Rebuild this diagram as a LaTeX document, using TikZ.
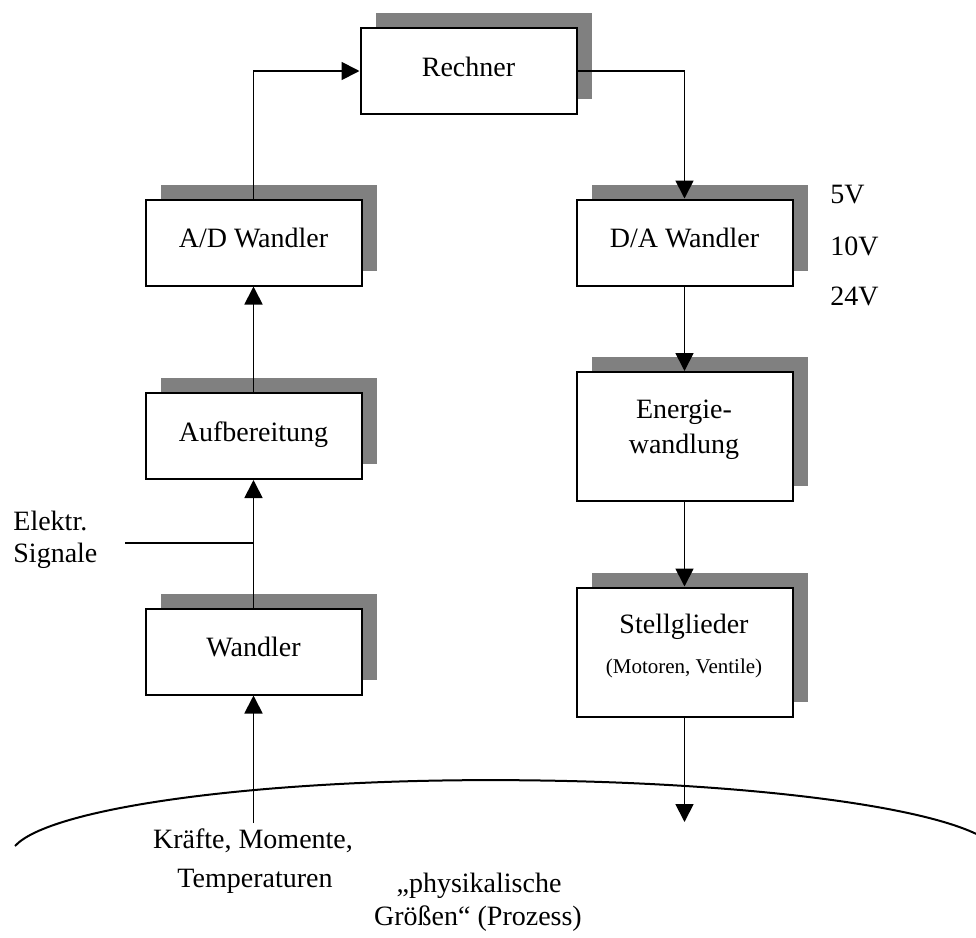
\documentclass[tikz,border=0pt]{standalone}
\usepackage{fontspec}
\setmainfont{Liberation Serif}
\usetikzlibrary{arrows.meta,shadows}
\begin{document}
\begin{tikzpicture}[x=0.5pt,y=-0.5pt,
  box/.style={draw=black, line width=1pt, fill=white,
    minimum width=108pt, minimum height=43pt, inner sep=0pt,
    font=\fontsize{14}{17}\selectfont, text height=10pt, text depth=5pt,
    drop shadow={shadow xshift=7.5pt, shadow yshift=7.5pt, fill=black!50, opacity=1}},
  tallbox/.style={box, minimum height=64.5pt},
  lbl/.style={font=\fontsize{14}{17}\selectfont, inner sep=0pt},
  small/.style={font=\fontsize{10.5}{12}\selectfont, inner sep=0pt},
  wire/.style={line width=0.9pt},
  flow/.style={wire, -{Triangle[length=9pt,width=9pt]}}]
\useasboundingbox (0,0) rectangle (976,938);

% process boundary
\draw[line width=1pt] (15,846)
  arc[start angle=171.7, end angle=90, x radius=240pt, y radius=38.5pt]
  arc[start angle=90, end angle=17.6, x radius=255pt, y radius=38.5pt];

% blocks
\node[box] (rechner) at (468.5,71) {Rechner};
\node[box] (ad) at (253.5,242.5) {A/D Wandler};
\node[box] (da) at (684.5,242.5) {D/A Wandler};
\node[box] (aufb) at (253.5,436) {Aufbereitung};
\node[box] (wandler) at (253.5,651.5) {Wandler};
\node[tallbox] (energie) at (684.5,436.5) {};
\node[tallbox] (stell) at (684.5,652) {};

% two-line block texts
\node[lbl, anchor=base] (energie1) at (684,418) {Energie-};
\node[lbl, anchor=base] (energie2) at (684,453) {wandlung};
\node[lbl, anchor=base] (stell1) at (684,633) {Stellglieder};
\node[small, anchor=base] (stell2) at (684,673) {(Motoren, Ventile)};

% voltage levels
\node[lbl, anchor=base west] (v5) at (830,203) {5V};
\node[lbl, anchor=base west] (v10) at (830,255) {10V};
\node[lbl, anchor=base west] (v24) at (830,305) {24V};

% signal input
\node[lbl, anchor=base west] (el1) at (13,530) {Elektr.};
\node[lbl, anchor=base west] (el2) at (13,562) {Signale};
\coordinate (sig) at (125,543);

% process texts
\node[lbl, anchor=base] (k1) at (253,848) {Kräfte, Momente,};
\node[lbl, anchor=base] (k2) at (255,887) {Temperaturen};
\node[lbl, anchor=base] (p1) at (479,892) {„physikalische};
\node[lbl, anchor=base] (p2) at (478,925) {Größen“ (Prozess)};

\coordinate (messpunkt) at (253.5,823);
\coordinate (stellpunkt) at (684.5,822);

% signal flow
\draw[flow] (messpunkt) -- (wandler.south);
\draw[flow] (wandler.north) -- (aufb.south);
\draw[wire] (sig) -- (sig -| wandler.north);
\draw[flow] (aufb.north) -- (ad.south);
\draw[flow] (ad.north) |- (rechner.west);
\draw[flow] (rechner.east) -| (da.north);
\draw[flow] (da.south) -- (energie.north);
\draw[flow] (energie.south) -- (stell.north);
\draw[flow] (stell.south) -- (stellpunkt);
\end{tikzpicture}
\end{document}
